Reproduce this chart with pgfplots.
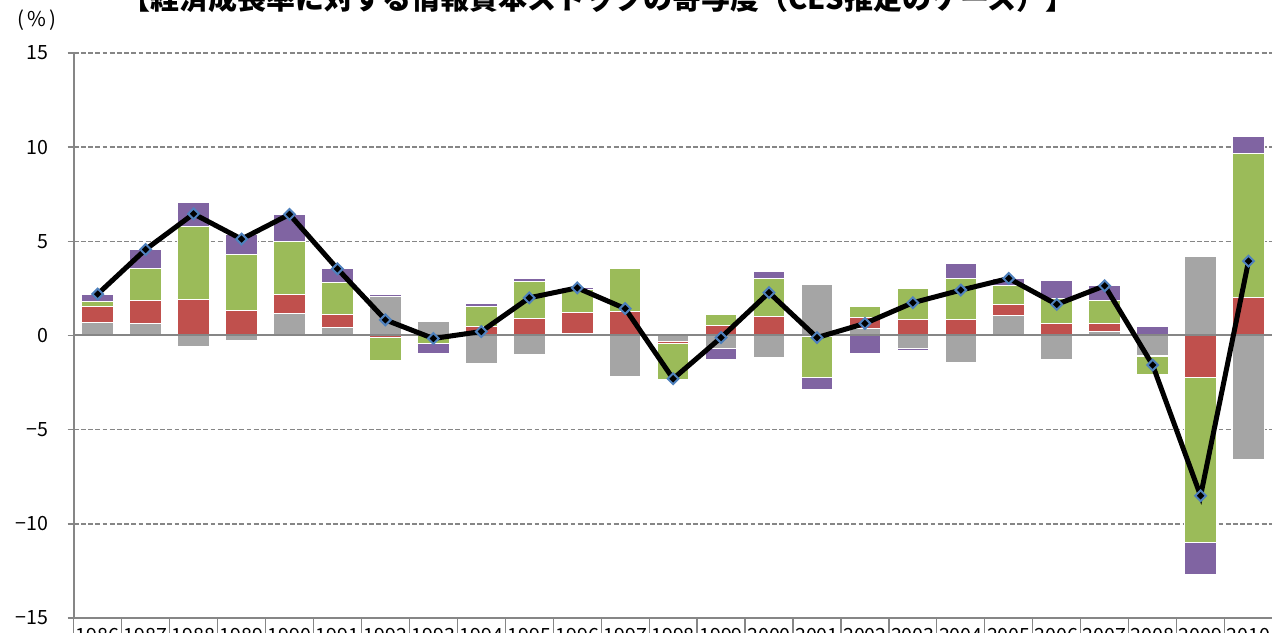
\documentclass[border=0pt]{standalone}
\usepackage{fontspec}
\setmainfont{Noto Sans CJK JP}
\usepackage{pgfplots}
\usepackage{pgfplotstable}
\pgfplotsset{compat=1.18}

\definecolor{cgray}{HTML}{A5A5A5}
\definecolor{cred}{HTML}{C0504D}
\definecolor{cgreen}{HTML}{9BBB59}
\definecolor{cpurple}{HTML}{8064A2}
\definecolor{mblue}{HTML}{4F81BD}
\definecolor{axgray}{HTML}{868686}

% contributions to growth (percentage points) and the total growth rate
\pgfplotstableread{
x  year gray  red   green purple total
0  1986  0.67  0.87  0.25  0.41  2.20
1  1987  0.66  1.22  1.68  1.01  4.57
2  1988 -0.58  1.93  3.84  1.28  6.46
3  1989 -0.28  1.33  2.99  1.06  5.12
4  1990  1.15  1.01  2.83  1.44  6.43
5  1991  0.43  0.70  1.67  0.74  3.54
6  1992  2.07 -0.08 -1.25  0.09  0.83
7  1993  0.76  0.03 -0.43 -0.52 -0.16
8  1994 -1.47  0.48  1.04  0.16  0.21
9  1995 -1.01  0.92  1.97  0.12  2.00
10 1996  0.11  1.11  1.21  0.10  2.53
11 1997 -2.16  1.26  2.32  0.00  1.43
12 1998 -0.32 -0.10 -1.90  0.00 -2.30
13 1999 -0.71  0.53  0.61 -0.54 -0.11
14 2000 -1.15  1.01  2.02  0.37  2.28
15 2001  2.73 -0.07 -2.16 -0.64 -0.11
16 2002  0.36  0.58  0.60 -0.93  0.64
17 2003 -0.67  0.85  1.67 -0.14  1.74
18 2004 -1.43  0.85  2.15  0.84  2.41
19 2005  1.08  0.57  0.99  0.39  3.03
20 2006 -1.25  0.64  1.33  0.95  1.65
21 2007  0.21  0.43  1.24  0.76  2.64
22 2008 -1.04 -0.09 -0.96  0.50 -1.57
23 2009  4.22 -2.21 -8.78 -1.72 -8.51
24 2010 -6.60  2.04  7.65  0.88  3.95
}\contrib

\pgfplotsset{
  chartframe/.style={
    at={(36.85pt,7pt)}, anchor=south west, scale only axis,
    width=599.4pt, height=282.5pt,
    xmin=-0.5, xmax=24.5, ymin=-15, ymax=15,
  },
  segment/.style={draw=white, line width=0.5pt},
}

\begin{document}
\begin{tikzpicture}
\useasboundingbox (0,0) rectangle (636pt,316pt);
\clip (0,0) rectangle (636pt,316pt);

% frame, grid and the positive parts of each stack
\begin{axis}[
  chartframe,
  axis x line*=bottom, axis y line*=left,
  axis line style={-, draw=axgray, line width=1pt},
  ytick={-15,-10,...,15},
  yticklabels={−15,−10,−5,0,5,10,15},
  ymajorgrids,
  major grid style={axgray, line width=0.7pt, dash pattern=on 2.4pt off 1.2pt},
  xtick={0,...,24},
  xticklabels={1986,1987,1988,1989,1990,1991,1992,1993,1994,1995,1996,1997,1998,1999,2000,2001,2002,2003,2004,2005,2006,2007,2008,2009,2010},
  major x tick style={draw=none},
  minor xtick={-0.5,0.5,...,24.5},
  minor x tick style={axgray, line width=0.6pt},
  minor tick length=14pt,
  major tick length=3pt,
  tick align=outside,
  ytick style={axgray, line width=0.8pt},
  ticklabel style={font=\fontsize{9.8}{11}\selectfont},
  yticklabel style={xshift=-6pt},
  xticklabel style={yshift=1.6pt},
  ybar stacked, bar width=0.66,
]
\addplot[segment, fill=cgray]   table[x=x, y expr={max(\thisrow{gray},0)}]   {\contrib};
\addplot[segment, fill=cred]    table[x=x, y expr={max(\thisrow{red},0)}]    {\contrib};
\addplot[segment, fill=cgreen]  table[x=x, y expr={max(\thisrow{green},0)}]  {\contrib};
\addplot[segment, fill=cpurple] table[x=x, y expr={max(\thisrow{purple},0)}] {\contrib};
\end{axis}

% negative parts, stacked downward from zero
\begin{axis}[chartframe, hide axis, ybar stacked, bar width=0.66]
\addplot[segment, fill=cgray]   table[x=x, y expr={min(\thisrow{gray},0)}]   {\contrib};
\addplot[segment, fill=cred]    table[x=x, y expr={min(\thisrow{red},0)}]    {\contrib};
\addplot[segment, fill=cgreen]  table[x=x, y expr={min(\thisrow{green},0)}]  {\contrib};
\addplot[segment, fill=cpurple] table[x=x, y expr={min(\thisrow{purple},0)}] {\contrib};
\end{axis}

% zero line and the growth-rate line
\begin{axis}[chartframe, hide axis]
\draw[axgray, line width=1pt] (axis cs:-0.5,0) -- (axis cs:24.5,0);
\addplot[black, line width=2.5pt, mark=square*, mark size=1.9pt,
  mark options={rotate=45, fill=black, draw=mblue, line width=1pt}]
  table[x=x, y=total] {\contrib};
\end{axis}

\node[anchor=base, font=\fontsize{14.5}{16}\selectfont\bfseries]
  at (299pt,311.2pt) {【経済成長率に対する情報資本ストックの寄与度（CES推定のケース）】};
\node[font=\fontsize{10.2}{12}\selectfont] at (18.5pt,306pt) {(\,\%\,)};
\end{tikzpicture}
\end{document}
